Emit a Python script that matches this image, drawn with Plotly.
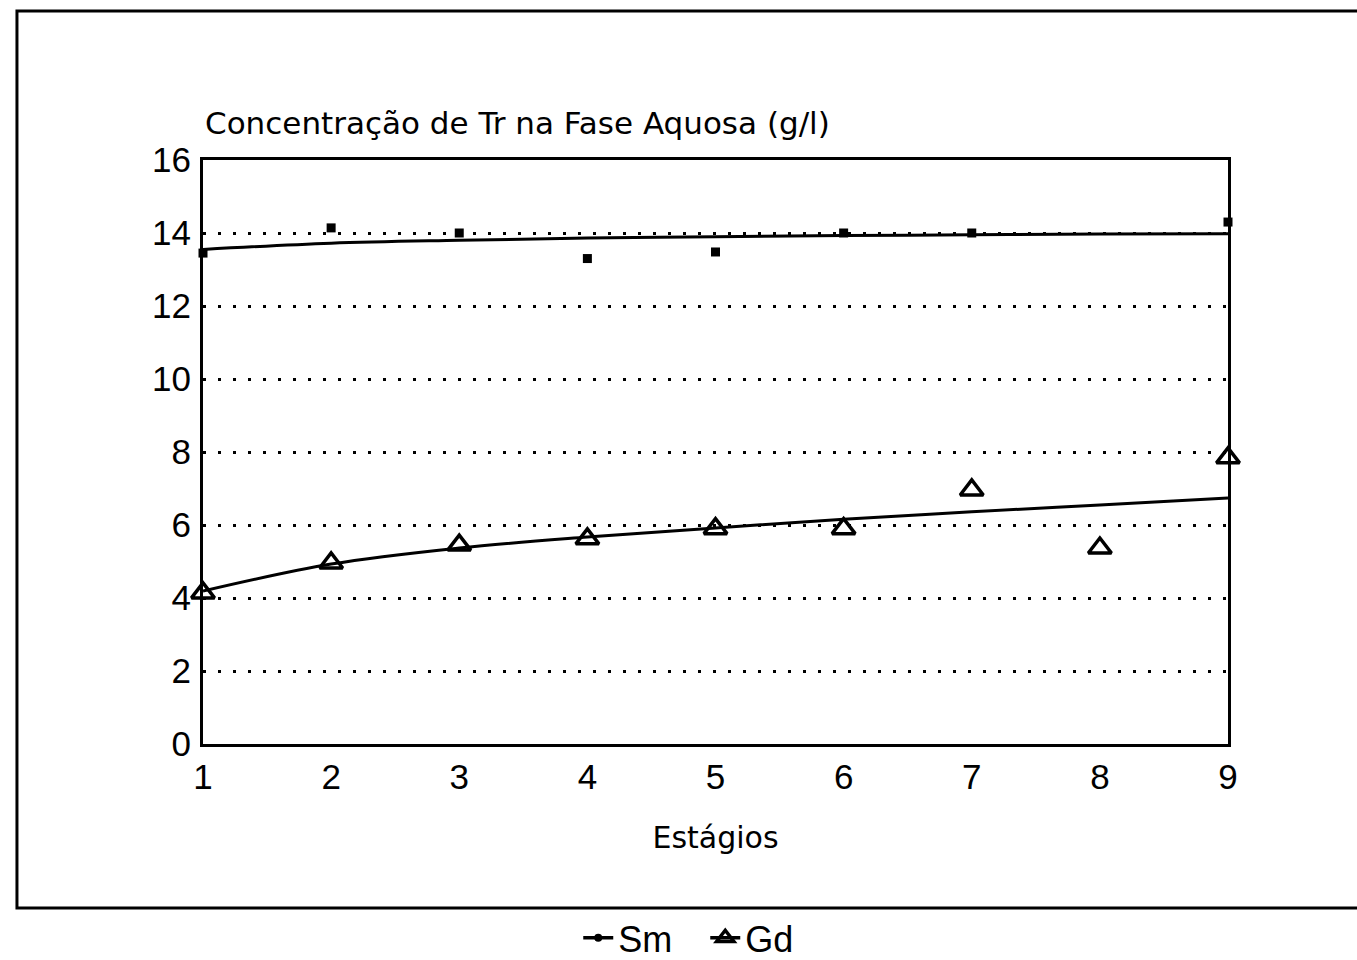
import plotly.graph_objects as go

stages = [1, 2, 3, 4, 5, 6, 7, 8, 9]
sm_points = [13.45, 14.14, 14.0, 13.3, 13.48, 14.0, 14.0, None, 14.3]
gd_points = [4.14, 4.96, 5.45, 5.62, 5.9, 5.9, 6.96, 5.37, 7.84]
sm_fit = [13.55, 13.72, 13.80, 13.86, 13.90, 13.93, 13.95, 13.97, 13.98]
gd_fit = [4.19, 4.93, 5.37, 5.67, 5.92, 6.16, 6.36, 6.55, 6.74]
y_ticks = [0, 2, 4, 6, 8, 10, 12, 14, 16]

FONT = "Liberation Sans, Arial, sans-serif"
WIDE = "DejaVu Sans, Verdana, sans-serif"

fig = go.Figure()
fig.add_trace(go.Scatter(x=stages, y=sm_fit, mode="lines", line=dict(color="black", width=3, shape="spline"),
                         showlegend=False, cliponaxis=False))
fig.add_trace(go.Scatter(x=stages, y=gd_fit, mode="lines", line=dict(color="black", width=3, shape="spline"),
                         showlegend=False, cliponaxis=False))
fig.add_trace(go.Scatter(x=stages, y=sm_points, mode="markers",
                         marker=dict(symbol="square", size=9, color="black"),
                         showlegend=False, cliponaxis=False))
fig.add_trace(go.Scatter(x=stages, y=gd_points, mode="markers",
                         marker=dict(symbol="triangle-up-open", size=20, color="black", line=dict(width=3.5, color="black")),
                         showlegend=False, cliponaxis=False))
# legend entries
fig.add_trace(go.Scatter(x=[None], y=[None], mode="lines+markers", name="Sm",
                         line=dict(color="black", width=3.5), marker=dict(symbol="circle", size=8, color="black")))
fig.add_trace(go.Scatter(x=[None], y=[None], mode="lines+markers", name="Gd",
                         line=dict(color="black", width=3.5),
                         marker=dict(symbol="triangle-up-open", size=15, color="black", line=dict(width=3.5, color="black"))))

fig.update_xaxes(range=[1, 9], tickvals=stages, showgrid=False, zeroline=False,
                 showline=True, linecolor="black", linewidth=3, mirror=True, ticks="",
                 tickfont=dict(size=35, color="black", family=FONT),
                 title=dict(text="Estágios", font=dict(size=30, color="black", family=WIDE), standoff=32))
fig.update_yaxes(range=[0, 16], tickvals=y_ticks, showgrid=True, gridcolor="black", gridwidth=3,
                 griddash="3px,12px", zeroline=False,
                 showline=True, linecolor="black", linewidth=3, mirror=True, ticks="",
                 tickfont=dict(size=35, color="black", family=FONT), ticklabelstandoff=2)

fig.add_annotation(text="Concentração de Tr na Fase Aquosa (g/l)", xref="paper", yref="paper",
                   x=0.0, y=1.063, xanchor="left", yanchor="middle", showarrow=False,
                   font=dict(size=31, color="black", family=WIDE))

# outer frame
fig.add_shape(type="rect", xref="paper", yref="paper", x0=-0.1815, x1=1.13, y0=-0.2808, y1=1.255,
              line=dict(color="black", width=3), fillcolor="rgba(0,0,0,0)", layer="below")

fig.update_layout(
    width=1357, height=960,
    margin=dict(l=203, r=129, t=160, b=216, autoexpand=False),
    plot_bgcolor="white", paper_bgcolor="white",
    font=dict(family=FONT, color="black"),
    legend=dict(orientation="h", x=0.49, xanchor="center", y=-0.332, yanchor="middle",
                font=dict(size=36, color="black", family=FONT), itemwidth=30,
                entrywidth=82, entrywidthmode="pixels",
                bgcolor="rgba(0,0,0,0)", tracegroupgap=0),
)

fig.write_html("out.html")
